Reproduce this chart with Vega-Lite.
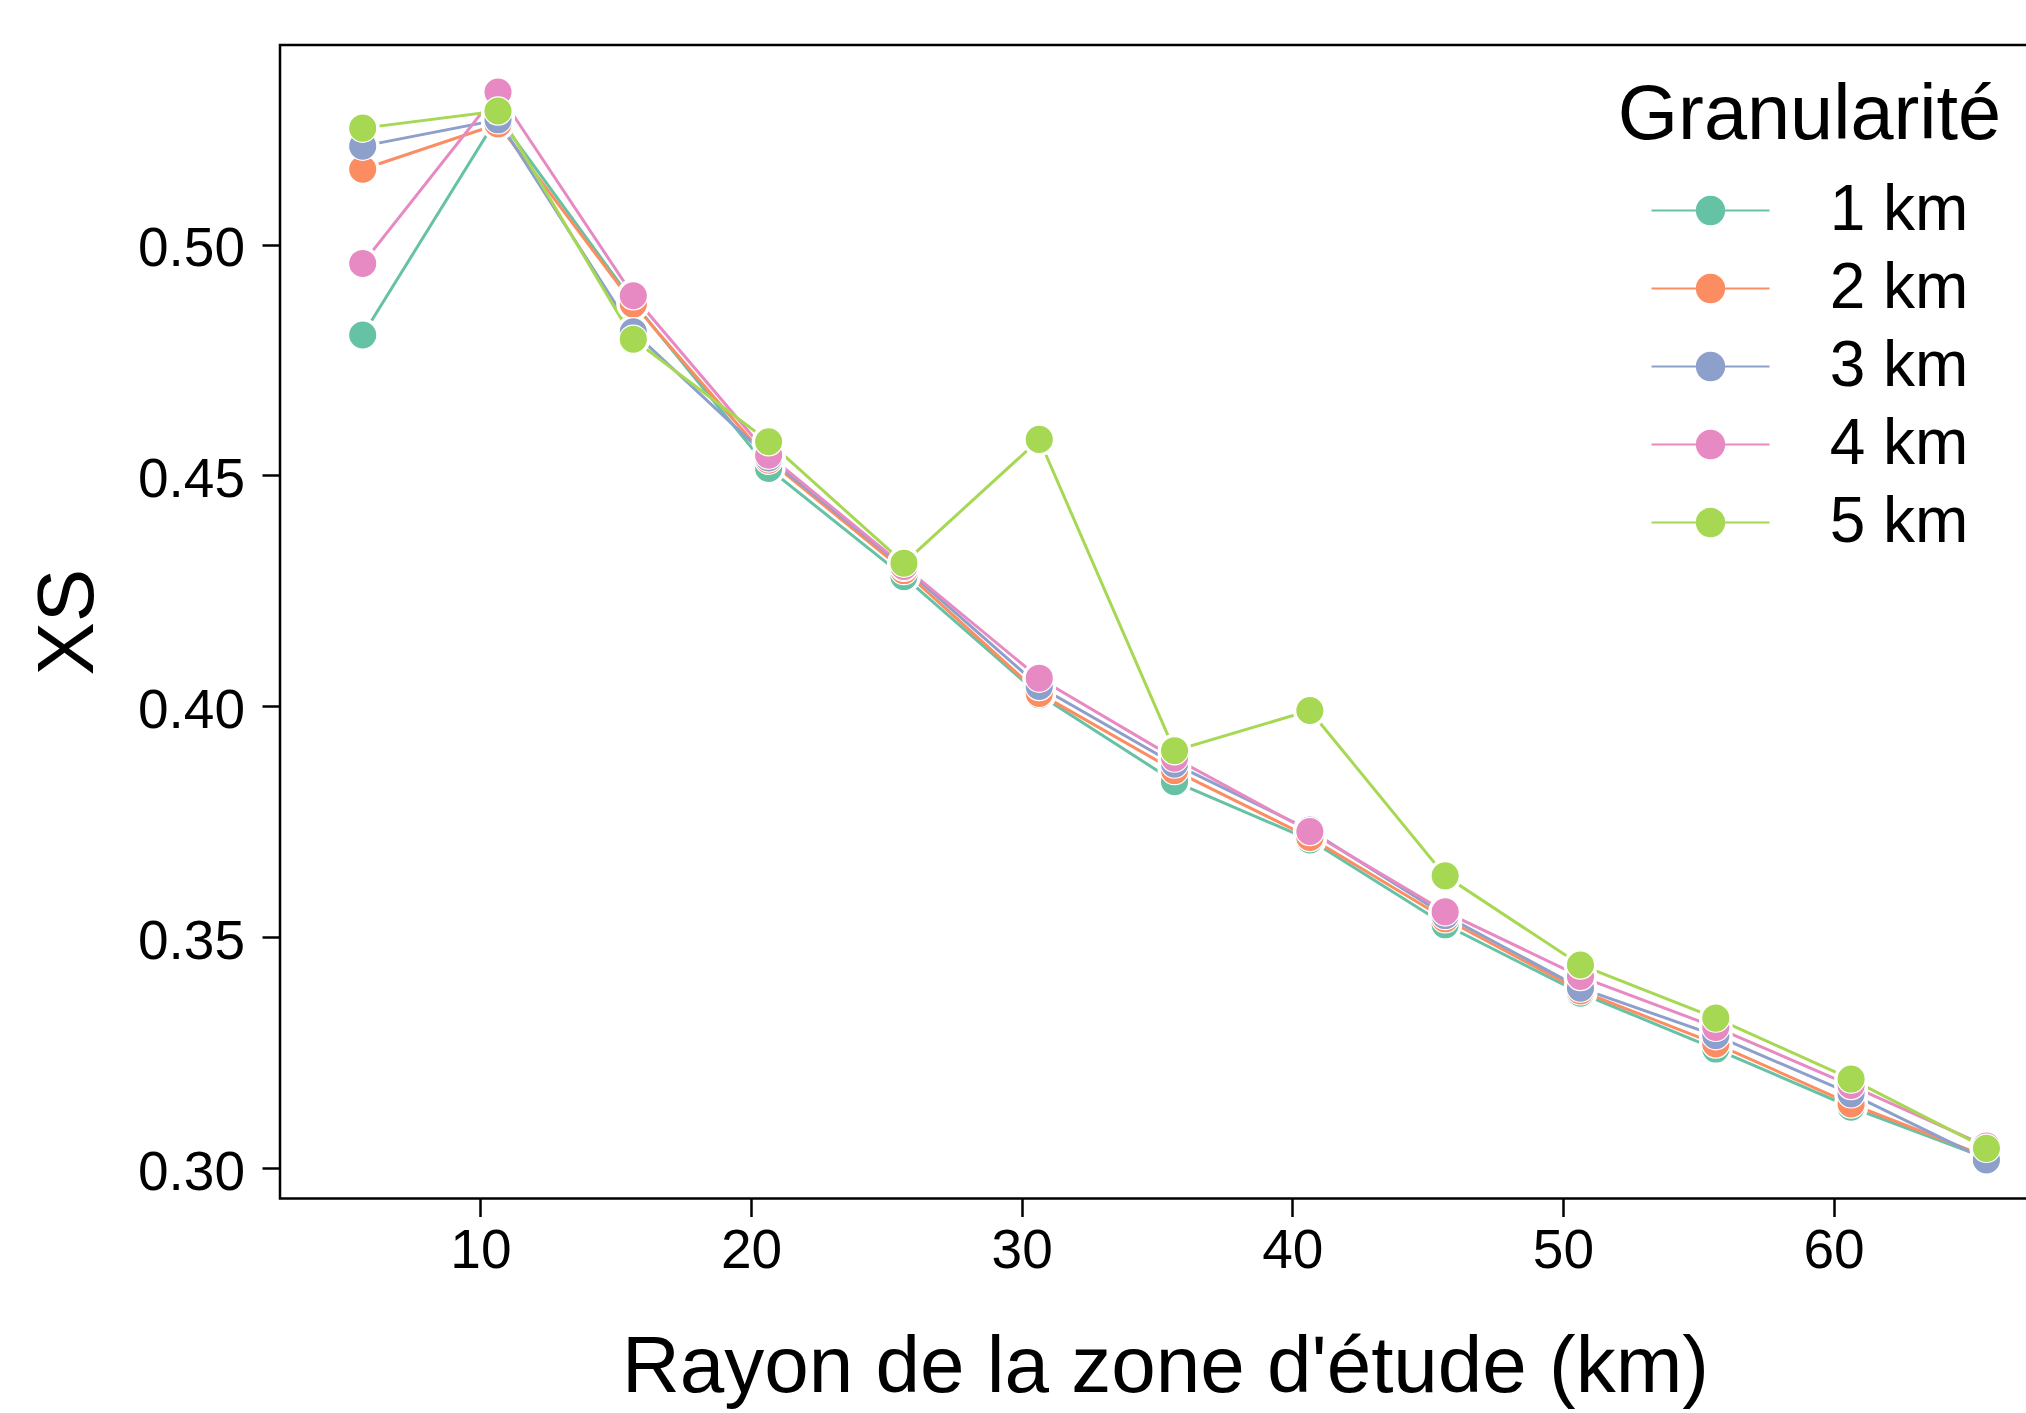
{
  "$schema": "https://vega.github.io/schema/vega-lite/v6.json",
  "width": 1770,
  "height": 1153.5,
  "autosize": {"type": "none"},
  "padding": {"left": 280, "top": 45, "right": -24, "bottom": 214.5},
  "background": "white",
  "config": {
    "view": {"stroke": "black", "strokeWidth": 2.5},
    "font": "Liberation Sans",
    "axis": {
      "grid": false, "domain": false, "tickColor": "black", "tickWidth": 2.5, "tickSize": 18,
      "labelColor": "black", "labelFont": "Liberation Sans", "labelFontSize": 55,
      "titleFont": "Liberation Sans", "titleFontSize": 80, "titleFontWeight": "normal", "titleColor": "black"
    },
    "legend": {
      "orient": "none", "legendX": 1337.5, "legendY": 32.5, "padding": 0,
      "titleFont": "Liberation Sans", "titleFontSize": 77.5, "titleFontWeight": "normal", "titleColor": "black",
      "titleAnchor": "middle", "titleLimit": 1000, "titlePadding": 23.5, "titleBaseline": "top",
      "labelFont": "Liberation Sans", "labelFontSize": 64, "labelColor": "black", "labelLimit": 1000, "labelOffset": 87.2,
      "symbolType": "M-1.9667,0L1.9667,0M0.4567,0A0.4567,0.4567,0,1,1,-0.4567,0A0.4567,0.4567,0,1,1,0.4567,0Z",
      "symbolSize": 3600, "symbolStrokeWidth": 2, "symbolOffset": 27, "rowPadding": 14
    }
  },
  "data": {"values": [
    {"rayon": 5.65, "gran": "1 km", "xs": 0.4804}, {"rayon": 10.65, "gran": "1 km", "xs": 0.5277}, {"rayon": 15.65, "gran": "1 km", "xs": 0.4875}, {"rayon": 20.65, "gran": "1 km", "xs": 0.4515}, {"rayon": 25.65, "gran": "1 km", "xs": 0.4281}, {"rayon": 30.65, "gran": "1 km", "xs": 0.4025}, {"rayon": 35.65, "gran": "1 km", "xs": 0.3837}, {"rayon": 40.65, "gran": "1 km", "xs": 0.3711}, {"rayon": 45.65, "gran": "1 km", "xs": 0.3527}, {"rayon": 50.65, "gran": "1 km", "xs": 0.3379}, {"rayon": 55.65, "gran": "1 km", "xs": 0.3258}, {"rayon": 60.65, "gran": "1 km", "xs": 0.3132}, {"rayon": 65.65, "gran": "1 km", "xs": 0.3022},
    {"rayon": 5.65, "gran": "2 km", "xs": 0.5163}, {"rayon": 10.65, "gran": "2 km", "xs": 0.5261}, {"rayon": 15.65, "gran": "2 km", "xs": 0.4871}, {"rayon": 20.65, "gran": "2 km", "xs": 0.4533}, {"rayon": 25.65, "gran": "2 km", "xs": 0.4294}, {"rayon": 30.65, "gran": "2 km", "xs": 0.4028}, {"rayon": 35.65, "gran": "2 km", "xs": 0.3861}, {"rayon": 40.65, "gran": "2 km", "xs": 0.3716}, {"rayon": 45.65, "gran": "2 km", "xs": 0.3540}, {"rayon": 50.65, "gran": "2 km", "xs": 0.3384}, {"rayon": 55.65, "gran": "2 km", "xs": 0.3269}, {"rayon": 60.65, "gran": "2 km", "xs": 0.3139}, {"rayon": 65.65, "gran": "2 km", "xs": 0.3025},
    {"rayon": 5.65, "gran": "3 km", "xs": 0.5213}, {"rayon": 10.65, "gran": "3 km", "xs": 0.5270}, {"rayon": 15.65, "gran": "3 km", "xs": 0.4811}, {"rayon": 20.65, "gran": "3 km", "xs": 0.4538}, {"rayon": 25.65, "gran": "3 km", "xs": 0.4301}, {"rayon": 30.65, "gran": "3 km", "xs": 0.4043}, {"rayon": 35.65, "gran": "3 km", "xs": 0.3875}, {"rayon": 40.65, "gran": "3 km", "xs": 0.3732}, {"rayon": 45.65, "gran": "3 km", "xs": 0.3547}, {"rayon": 50.65, "gran": "3 km", "xs": 0.3390}, {"rayon": 55.65, "gran": "3 km", "xs": 0.3287}, {"rayon": 60.65, "gran": "3 km", "xs": 0.3161}, {"rayon": 65.65, "gran": "3 km", "xs": 0.3018},
    {"rayon": 5.65, "gran": "4 km", "xs": 0.4959}, {"rayon": 10.65, "gran": "4 km", "xs": 0.5330}, {"rayon": 15.65, "gran": "4 km", "xs": 0.4889}, {"rayon": 20.65, "gran": "4 km", "xs": 0.4544}, {"rayon": 25.65, "gran": "4 km", "xs": 0.4303}, {"rayon": 30.65, "gran": "4 km", "xs": 0.4061}, {"rayon": 35.65, "gran": "4 km", "xs": 0.3888}, {"rayon": 40.65, "gran": "4 km", "xs": 0.3729}, {"rayon": 45.65, "gran": "4 km", "xs": 0.3555}, {"rayon": 50.65, "gran": "4 km", "xs": 0.3415}, {"rayon": 55.65, "gran": "4 km", "xs": 0.3305}, {"rayon": 60.65, "gran": "4 km", "xs": 0.3179}, {"rayon": 65.65, "gran": "4 km", "xs": 0.3048},
    {"rayon": 5.65, "gran": "5 km", "xs": 0.5252}, {"rayon": 10.65, "gran": "5 km", "xs": 0.5289}, {"rayon": 15.65, "gran": "5 km", "xs": 0.4795}, {"rayon": 20.65, "gran": "5 km", "xs": 0.4573}, {"rayon": 25.65, "gran": "5 km", "xs": 0.4310}, {"rayon": 30.65, "gran": "5 km", "xs": 0.4578}, {"rayon": 35.65, "gran": "5 km", "xs": 0.3904}, {"rayon": 40.65, "gran": "5 km", "xs": 0.3991}, {"rayon": 45.65, "gran": "5 km", "xs": 0.3633}, {"rayon": 50.65, "gran": "5 km", "xs": 0.3440}, {"rayon": 55.65, "gran": "5 km", "xs": 0.3325}, {"rayon": 60.65, "gran": "5 km", "xs": 0.3193}, {"rayon": 65.65, "gran": "5 km", "xs": 0.3043}
  ]},
  "encoding": {
    "x": {
      "field": "rayon", "type": "quantitative",
      "scale": {"domain": [2.594, 68.0], "nice": false, "zero": false},
      "axis": {
        "values": [10, 20, 30, 40, 50, 60], "format": "d",
        "title": "Rayon de la zone d'étude (km)",
        "labelBaseline": "alphabetic", "labelPadding": 50.5,
        "titleBaseline": "alphabetic", "titleY": 192.5, "titleX": 885, "titleAlign": "center"
      }
    },
    "y": {
      "field": "xs", "type": "quantitative",
      "scale": {"domain": [0.29344, 0.5432], "nice": false, "zero": false},
      "axis": {
        "values": [0.30, 0.35, 0.40, 0.45, 0.50], "format": ".2f",
        "title": "XS",
        "labelBaseline": "alphabetic", "labelOffset": 21, "labelPadding": 17.5,
        "titleAngle": -90, "titleBaseline": "alphabetic", "titleX": -188, "titleY": 576.75, "titleAlign": "center"
      }
    }
  },
  "layer": [
    {
      "mark": {"type": "line", "strokeWidth": 3, "opacity": 1},
      "encoding": {
        "color": {"field": "gran", "type": "nominal", "title": "Granularité",
          "scale": {"domain": ["1 km", "2 km", "3 km", "4 km", "5 km"], "range": ["#66C2A5", "#FC8D62", "#8DA0CB", "#E78AC3", "#A6D854"]},
          "legend": {
            "title": "Granularité",
            "encode": {
              "symbols": {"update": {
                "fill": {"scale": "color", "field": "value"},
                "stroke": {"scale": "color", "field": "value"},
                "size": {"value": 3600}, "strokeWidth": {"value": 2}, "opacity": {"value": 1}
              }},
              "labels": {"update": {"dy": {"value": 4}}}
            }
          }
        }
      }
    },
    {
      "mark": {"type": "point", "filled": true, "shape": "circle", "size": 1156, "color": "white", "opacity": 1}
    },
    {
      "mark": {"type": "point", "filled": true, "shape": "circle", "size": 800, "opacity": 1, "stroke": "white", "strokeWidth": 1.2},
      "encoding": {
        "color": {"field": "gran", "type": "nominal", "title": "Granularité",
          "scale": {"domain": ["1 km", "2 km", "3 km", "4 km", "5 km"], "range": ["#66C2A5", "#FC8D62", "#8DA0CB", "#E78AC3", "#A6D854"]},
          "legend": {
            "title": "Granularité",
            "encode": {
              "symbols": {"update": {
                "fill": {"scale": "color", "field": "value"},
                "stroke": {"scale": "color", "field": "value"},
                "size": {"value": 3600}, "strokeWidth": {"value": 2}, "opacity": {"value": 1}
              }},
              "labels": {"update": {"dy": {"value": 4}}}
            }
          }
        }
      }
    }
  ]
}
